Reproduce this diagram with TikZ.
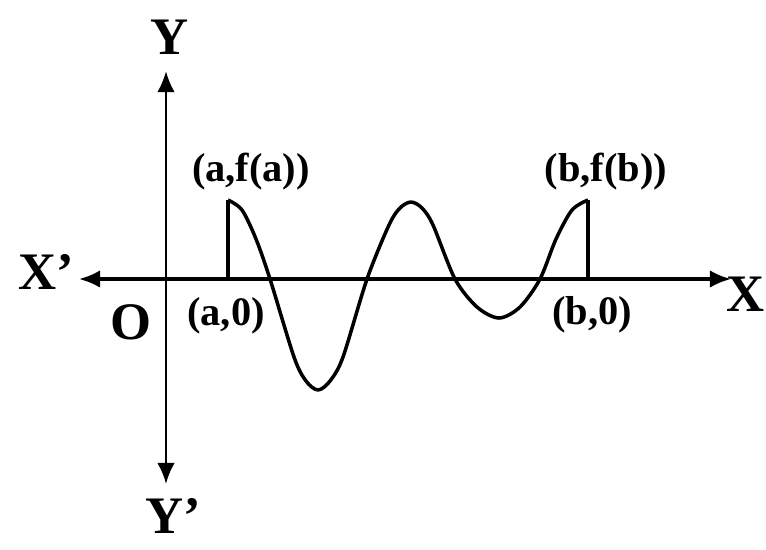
\documentclass[tikz,border=0pt]{standalone}
\usepackage{fontspec}
\setmainfont{Liberation Serif}
\usepackage{tikz}
\usetikzlibrary{arrows.meta}

\begin{document}
\begin{tikzpicture}[x=0.02cm, y=0.02cm,
				>={Latex[length=12pt,width=10pt]},   %Pfeilspitzen
				axlbl/.style={font=\fontsize{30}{33}\selectfont\bfseries, inner sep=0pt},
				ptlbl/.style={font=\fontsize{23}{26}\selectfont\bfseries, inner sep=0pt},
				curve/.style={line width=2pt, line join=round}]
				\useasboundingbox (0,0) rectangle (766,-549);
				% Achsen
				\coordinate (xl) at (79,-279);
				\coordinate (xr) at (731,-279);
				\coordinate (yt) at (166,-71);
				\coordinate (yb) at (166,-484);
				\draw[<->,line width=1.9pt] (xl) -- (xr);
				\draw[<->,line width=1.6pt] (yb) -- (yt);
				% Achsen beschriften
				\node[axlbl] (ylab) at (170,-37) {Y};
				\node[axlbl] (yplab) at (173,-516) {Y'};
				\node[axlbl] (xplab) at (46,-272) {X'};
				\node[axlbl, anchor=east] (xlab) at (765,-294) {X};
				\node[axlbl] (olab) at (131,-322) {O};
				% Punkte
				\coordinate (a0) at (228,-279);
				\coordinate (fa) at (228,-200);
				\coordinate (b0) at (588,-279);
				\coordinate (fb) at (588,-200);
				\node[ptlbl] (falab) at (251,-172) {(a,f(a))};
				\node[ptlbl] (a0lab) at (226,-316) {(a,0)};
				\node[ptlbl] (fblab) at (606,-172) {(b,f(b))};
				\node[ptlbl] (b0lab) at (592,-315) {(b,0)};
				%Funktion zeichnen
				\draw[curve] (a0) -- (fa);
				\draw[curve] plot[smooth] coordinates {(228,-200) (242,-210) (256,-239) (270,-279)
					(294,-357) (306,-381) (318,-390) (330,-381) (343,-357) (367,-279)
					(389,-225) (400,-208) (411,-202) (422,-208) (433,-225) (455,-279)
					(477,-307) (499,-318) (520,-307) (540,-279)
					(556,-239) (572,-210) (588,-200)};
				\draw[curve] (fb) -- (b0);
			\end{tikzpicture}
\end{document}
